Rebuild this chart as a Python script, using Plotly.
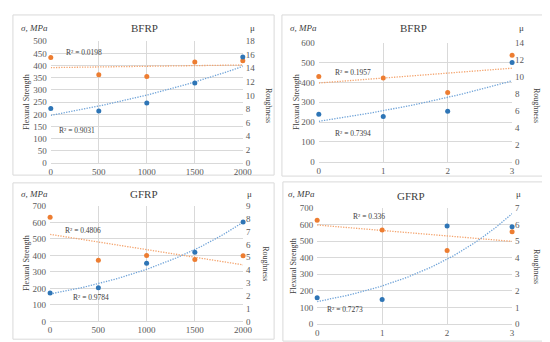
import numpy as np
import plotly.graph_objects as go

W, H = 550, 342

# ---- data ----
titles = ["BFRP", "BFRP", "GFRP", "GFRP"]
x_p1 = [0, 500, 1000, 1500, 2000]
x_p2 = [0, 1, 2, 3]
x_p3 = [0, 500, 1000, 1500, 2000]
x_p4 = [0, 1, 2, 3]
# flexural strength (MPa, left axis, orange)
strength_p1 = [433, 362, 355, 415, 420]
strength_p2 = [430, 422, 350, 537]
strength_p3 = [631, 371, 400, 375, 398]
strength_p4 = [626, 567, 444, 557]
# roughness (μ, right axis, blue)
rough_p1 = [8.06, 7.69, 8.89, 11.84, 15.66]
rough_p2 = [5.60, 5.32, 5.95, 11.67]
rough_p3 = [2.22, 2.62, 4.54, 5.39, 7.74]
rough_p4 = [1.58, 1.47, 5.92, 5.87]
r2_strength = ["R² = 0.0198", "R² = 0.1957", "R² = 0.4806", "R² = 0.336"]
r2_rough = ["R² = 0.9031", "R² = 0.7394", "R² = 0.9784", "R² = 0.7273"]
left_max = [500, 600, 700, 700]
left_step = [50, 100, 100, 100]
right_max = [18, 14, 9, 7]
right_step = [2, 2, 1, 1]
x_max = [2000, 3, 2000, 3]
x_step = [500, 1, 500, 1]

xs = [x_p1, x_p2, x_p3, x_p4]
strengths = [strength_p1, strength_p2, strength_p3, strength_p4]
roughs = [rough_p1, rough_p2, rough_p3, rough_p4]

# ---- layout geometry (pixels) ----
plot_px = [  # x0, x1, ytop, ybottom
    (41.7, 238.0, 29.0, 154.7),
    (315.7, 513.3, 30.7, 153.3),
    (41.0, 238.3, 198.7, 317.7),
    (314.0, 513.3, 201.0, 320.3),
]
box_px = [
    (3, 270, 2, 167),
    (278, 546, 2, 168),
    (3, 270, 175, 336),
    (279, 546, 174, 338),
]
title_px = [(137, 15), (412, 15), (137, 186), (410, 188)]
sigma_px = [(25, 15), (300, 15), (25, 186), (298, 186)]
mu_px = [(248, 15), (523, 15), (245, 186), (520, 186)]
flex_px = [(17, 92), (293, 92), (17, 258), (290, 261)]
rough_lbl_px = [(265, 95), (539, 95), (261, 258), (538, 261)]
r2s_px = [(76, 41), (351, 61), (75, 224), (367, 210)]
r2r_px = [(68, 121), (351, 124), (83, 293), (342, 305)]

def px(x):
    return x / W

def py(y):
    return 1 - y / H

SERIF = "Liberation Serif"
TICKC = "#595959"
GRID = "#D9D9D9"
ORANGE = "#ED7D31"
BLUE = "#2E75B6"
ORANGE_T = "#F4A46E"
BLUE_T = "#6FA3D8"

fig = go.Figure()
layout = dict(
    width=W, height=H, margin=dict(l=0, r=0, t=0, b=0),
    paper_bgcolor="white", plot_bgcolor="white", showlegend=False,
    font=dict(family=SERIF, size=9, color=TICKC),
)
annotations = []
shapes = []
TF = dict(family=SERIF, size=9, color=TICKC)

for i in range(4):
    xi = "x" if i == 0 else f"x{i+1}"
    yl = "y" if i == 0 else f"y{2*i+1}"
    yr = f"y{2*i+2}"
    xkey = "xaxis" if i == 0 else f"xaxis{i+1}"
    ylkey = "yaxis" if i == 0 else f"yaxis{2*i+1}"
    yrkey = f"yaxis{2*i+2}"
    x0, x1, yt, yb = plot_px[i]
    layout[xkey] = dict(
        domain=[px(x0), px(x1)], anchor=yl, range=[0, x_max[i]],
        tick0=0, dtick=x_step[i], showgrid=True, gridcolor=GRID, gridwidth=1,
        showline=True, linecolor=GRID, linewidth=1, zeroline=False,
        ticks="", tickfont=TF,
    )
    layout[ylkey] = dict(
        domain=[py(yb), py(yt)], anchor=xi, range=[0, left_max[i]],
        tick0=0, dtick=left_step[i], showgrid=True, gridcolor=GRID, gridwidth=1,
        showline=False, zeroline=False, ticks="", tickfont=TF,
        ticklabelstandoff=3,
    )
    layout[yrkey] = dict(
        domain=[py(yb), py(yt)], anchor=xi, overlaying=yl, side="right",
        range=[0, right_max[i]], tick0=0, dtick=right_step[i], showgrid=False,
        showline=False, zeroline=False, ticks="", tickfont=TF,
        ticklabelstandoff=2,
    )

    x = np.array(xs[i], dtype=float)
    s = np.array(strengths[i], dtype=float)
    r = np.array(roughs[i], dtype=float)
    xf = np.linspace(0, x_max[i], 80)
    # linear trend for strength
    a, b = np.polyfit(x, s, 1)
    fig.add_trace(go.Scatter(x=xf, y=a * xf + b, xaxis=xi, yaxis=yl, mode="lines",
                             line=dict(color=ORANGE_T, width=1.3, dash="1.3px,1.3px"),
                             hoverinfo="skip"))
    # exponential trend for roughness
    k, c = np.polyfit(x, np.log(r), 1)
    fig.add_trace(go.Scatter(x=xf, y=np.exp(c) * np.exp(k * xf), xaxis=xi, yaxis=yr,
                             mode="lines", line=dict(color=BLUE_T, width=1.3, dash="1.3px,1.3px"),
                             hoverinfo="skip"))
    fig.add_trace(go.Scatter(x=x, y=s, xaxis=xi, yaxis=yl, mode="markers",
                             marker=dict(color=ORANGE, size=5), cliponaxis=False))
    fig.add_trace(go.Scatter(x=x, y=r, xaxis=xi, yaxis=yr, mode="markers",
                             marker=dict(color=BLUE, size=5), cliponaxis=False))

    bx0, bx1, by0, by1 = box_px[i]
    shapes.append(dict(type="rect", xref="paper", yref="paper",
                       x0=px(bx0), x1=px(bx1), y0=py(by1), y1=py(by0),
                       line=dict(color=GRID, width=1), layer="below"))

    def ann(text, pos, size=8, angle=0, color="#404040", italic=False):
        annotations.append(dict(
            text=text, x=px(pos[0]), y=py(pos[1]), xref="paper", yref="paper",
            showarrow=False, xanchor="center", yanchor="middle", textangle=angle,
            font=dict(family=SERIF, size=size, color=color,
                      style="italic" if italic else "normal")))

    ann(titles[i], title_px[i], size=11, color="#404040")
    ann("σ, MPa", sigma_px[i], size=9, italic=True)
    ann("μ", mu_px[i], size=9)
    ann("Flexural Strength", flex_px[i], size=8, angle=-90)
    ann("Roughness", rough_lbl_px[i], size=8, angle=90)
    ann(r2_strength[i], r2s_px[i], size=7.5)
    ann(r2_rough[i], r2r_px[i], size=7.5)

layout["annotations"] = annotations
layout["shapes"] = shapes
fig.update_layout(**layout)
fig.write_html("out.html")
